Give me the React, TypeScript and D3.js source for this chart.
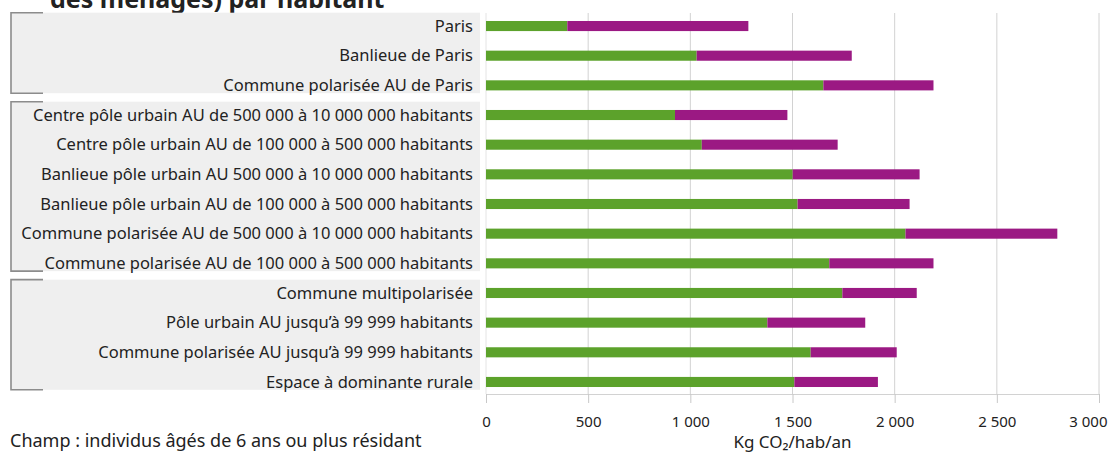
import React, { useEffect, useRef } from 'react'
import { scaleBand, scaleLinear, select, axisBottom, formatLocale } from 'd3';

// categories, top to bottom
const categories = [
    'Paris',
    'Banlieue de Paris',
    'Commune polarisée AU de Paris',
    'Centre pôle urbain AU de 500 000 à 10 000 000 habitants',
    'Centre pôle urbain AU de 100 000 à 500 000 habitants',
    'Banlieue pôle urbain AU 500 000 à 10 000 000 habitants',
    'Banlieue pôle urbain AU de 100 000 à 500 000 habitants',
    'Commune polarisée AU de 500 000 à 10 000 000 habitants',
    'Commune polarisée AU de 100 000 à 500 000 habitants',
    'Commune multipolarisée',
    'Pôle urbain AU jusqu\u2019à 99 999 habitants',
    'Commune polarisée AU jusqu\u2019à 99 999 habitants',
    'Espace à dominante rurale',
];

// green segment
const localValues = [398, 1031, 1651, 925, 1056, 1501, 1525, 2053, 1680, 1744, 1377, 1589, 1509];
// purple segment
const longDistanceValues = [886, 759, 539, 550, 665, 621, 548, 743, 510, 364, 479, 421, 409];

// bracketed groups (first and last category index)
const groups = [[0, 2], [3, 8], [9, 12]];

const xTicks = [0, 500, 1000, 1500, 2000, 2500, 3000];

const title = 'des ménages) par habitant';
const axisTitle = 'Kg CO\u2082/hab/an';
const noteLines = ['Champ : individus âgés de 6 ans ou plus résidant', 'en France métropolitaine'];

const FONT = '"Noto Sans", sans-serif';

const App = () => {
    const chartRef = useRef<SVGSVGElement>(null);

    useEffect(() => {
        const width = 1108;
        const height = 459;

        const svg = select(chartRef.current);
        svg.selectAll('*').remove();

        const x = scaleLinear().domain([0, 3000]).range([486, 1099]);
        const y = scaleBand().domain(categories).range([11.2, 396.8]).paddingInner(0.66).paddingOuter(0.33);
        const step = y.step();
        const yc = (c: string) => (y(c) as number) + y.bandwidth() / 2;

        svg.attr('width', width).attr('height', height);

        // title, cut at the top edge
        svg.append('text')
            .attr('x', 50).attr('y', 8)
            .style('font-family', FONT).style('font-weight', 'bold').style('font-size', '25px')
            .attr('fill', '#222')
            .text(title);

        // gray panels with brackets
        groups.forEach(([a, b]) => {
            const top = yc(categories[a]) - step / 2 + 1.5;
            const bottom = yc(categories[b]) + step / 2 - 7;
            svg.append('rect')
                .attr('x', 11).attr('y', top).attr('width', 469).attr('height', bottom - top)
                .attr('fill', '#efefef');
            svg.append('path')
                .attr('d', `M43,${top}H11V${bottom}H43`)
                .attr('fill', 'none').attr('stroke', '#8c8c8c').attr('stroke-width', 1.6);
        });

        // grid
        svg.append('g').selectAll('line').data(xTicks).enter().append('line')
            .attr('x1', d => x(d)).attr('x2', d => x(d))
            .attr('y1', 13).attr('y2', 394)
            .attr('stroke', d => d === 0 ? '#e4e4e4' : '#d2d2d2').attr('stroke-width', 1);

        // axis
        const fr = formatLocale({ decimal: ',', thousands: '\u00a0', grouping: [3], currency: ['', ' €'] });
        const axis = svg.append('g')
            .attr('transform', 'translate(0, 394)')
            .call(axisBottom(x).tickValues(xTicks).tickSize(9).tickPadding(13).tickFormat(d => fr.format(',')(d as number)));
        axis.select('.domain').attr('stroke', '#d2d2d2');
        axis.selectAll('.tick line').attr('stroke', '#c8c8c8');
        axis.selectAll('.tick text')
            .style('font-family', FONT).style('font-size', '15px').attr('fill', '#222');
        // last label pulled inside the frame, as in the original
        axis.selectAll('.tick').filter(d => d === 3000).select('text')
            .attr('text-anchor', 'end').attr('x', 1107 - x(3000));

        svg.append('text')
            .attr('x', x(1500)).attr('y', 448)
            .attr('text-anchor', 'middle')
            .style('font-family', FONT).style('font-size', '17px').attr('fill', '#222')
            .text(axisTitle);

        // category labels
        svg.append('g').selectAll('text').data(categories).enter().append('text')
            .attr('x', 473).attr('y', d => yc(d))
            .attr('dy', '0.35em')
            .attr('text-anchor', 'end')
            .style('font-family', FONT).style('font-size', '16.5px').attr('fill', '#222')
            .text(d => d);

        // bars
        const bars = svg.append('g');
        bars.selectAll('rect.local').data(categories).enter().append('rect')
            .attr('class', 'local')
            .attr('x', x(0))
            .attr('y', d => y(d) as number)
            .attr('width', (d, i) => x(localValues[i]) - x(0))
            .attr('height', y.bandwidth())
            .attr('fill', '#5ca22b');
        bars.selectAll('rect.long').data(categories).enter().append('rect')
            .attr('class', 'long')
            .attr('x', (d, i) => x(localValues[i]))
            .attr('y', d => y(d) as number)
            .attr('width', (d, i) => x(localValues[i] + longDistanceValues[i]) - x(localValues[i]))
            .attr('height', y.bandwidth())
            .attr('fill', '#9b1983');

        // note (second line mostly below the frame)
        svg.append('g').selectAll('text').data(noteLines).enter().append('text')
            .attr('x', 10).attr('y', (d, i) => 447 + i * 26)
            .style('font-family', FONT).style('font-size', '18px').attr('fill', '#222')
            .text(d => d);
    }, [chartRef]);

    return (
        <div style={{ position: 'absolute', left: 0, top: 0 }}>
            <svg ref={chartRef} width={1108} height={459} />
        </div>
    )
}

export default App
